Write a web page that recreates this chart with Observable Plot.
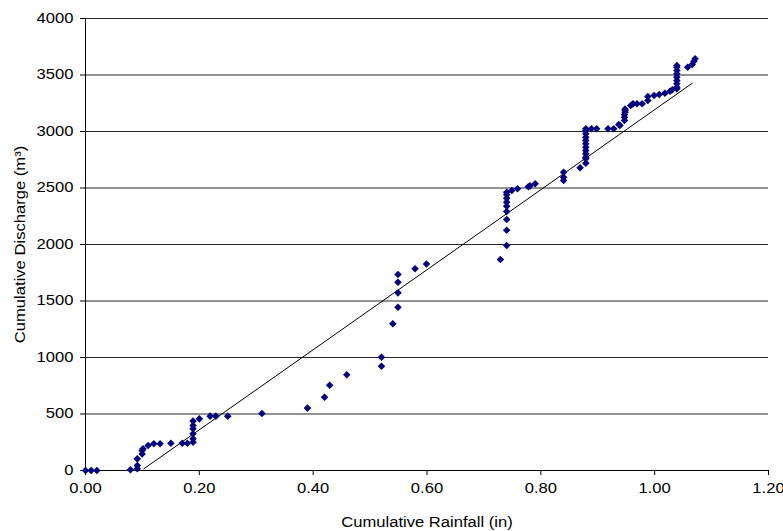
<!DOCTYPE html>
<html>
<head>
<meta charset="utf-8">
<script src="https://cdn.jsdelivr.net/npm/d3@7"></script>
<script src="https://cdn.jsdelivr.net/npm/@observablehq/plot@0.6"></script>
<style>
  html, body { margin: 0; padding: 0; background: #fff; }
  #chart svg { display: block; }
</style>
</head>
<body>
<div id="chart"></div>
<script>
// Cumulative rainfall (in)
const rainfall = [
  0.00, 0.01, 0.02, 0.079, 0.091, 0.091, 0.091, 0.0995, 0.0995, 0.101,
  0.110, 0.120, 0.131, 0.150, 0.170, 0.179, 0.189, 0.189, 0.189, 0.189,
  0.189, 0.189, 0.200, 0.219, 0.229, 0.250, 0.310, 0.390, 0.420, 0.429,
  0.459, 0.520, 0.520, 0.540, 0.549, 0.549, 0.549, 0.549, 0.579, 0.599,
  0.729, 0.740, 0.740, 0.740, 0.740, 0.740, 0.740, 0.740, 0.740, 0.740,
  0.749, 0.759, 0.778, 0.781, 0.790, 0.840, 0.840, 0.840, 0.869, 0.879,
  0.879, 0.879, 0.879, 0.879, 0.879, 0.879, 0.879, 0.879, 0.879, 0.879,
  0.879, 0.889, 0.898, 0.918, 0.928, 0.937, 0.939, 0.947, 0.947, 0.947,
  0.948, 0.948, 0.948, 0.958, 0.962, 0.969, 0.978, 0.988, 0.988, 0.999,
  1.008, 1.018, 1.027, 1.031, 1.039, 1.039, 1.039, 1.039, 1.039, 1.039,
  1.039, 1.039, 1.039, 1.058, 1.066, 1.069, 1.071
];
// Cumulative discharge (m³)
const discharge = [
  0, 0, 0, 6, 15, 44, 103, 147, 177, 192,
  221, 236, 236, 242, 242, 242, 251, 280, 325, 369,
  398, 437, 457, 481, 481, 481, 505, 552, 649, 755,
  847, 923, 1003, 1298, 1445, 1572, 1666, 1735, 1785, 1828,
  1867, 1991, 2127, 2221, 2292, 2339, 2375, 2410, 2440, 2463,
  2478, 2493, 2511, 2519, 2537, 2566, 2596, 2640, 2679, 2720,
  2758, 2773, 2802, 2832, 2861, 2891, 2920, 2950, 2979, 3009,
  3024, 3024, 3024, 3024, 3024, 3062, 3053, 3097, 3127, 3150,
  3171, 3186, 3200, 3230, 3245, 3245, 3245, 3274, 3310, 3318,
  3327, 3339, 3357, 3369, 3378, 3392, 3422, 3451, 3481, 3510,
  3540, 3569, 3584, 3569, 3593, 3622, 3643
];
// Linear trend line end points
const trendX = [0.1025, 1.066];
const trendY = [15, 3427];

const xTicks = [0, 0.2, 0.4, 0.6, 0.8, 1.0, 1.2];
const yTicks = [0, 500, 1000, 1500, 2000, 2500, 3000, 3500, 4000];

const points = rainfall.map((x, i) => ({x, y: discharge[i]}));
const trend = trendX.map((x, i) => ({x, y: trendY[i]}));

const chart = Plot.plot({
  width: 783,
  height: 531,
  marginLeft: 85,
  marginRight: 15,
  marginTop: 18,
  marginBottom: 61,
  style: {fontFamily: "'Liberation Sans', Arial, sans-serif", fontSize: "14px", color: "#000", background: "#fff"},
  x: {domain: [0, 1.2]},
  y: {domain: [0, 4000]},
  marks: [
    Plot.gridY(yTicks, {stroke: "#000", strokeOpacity: 0.85, strokeWidth: 1}),
    Plot.ruleX([0], {y1: 0, y2: 4000, stroke: "#000"}),
    Plot.ruleY([0], {stroke: "#000"}),
    Plot.axisX({ticks: xTicks, tickFormat: d3.format(".2f"), tickSize: 5, tickPadding: 8,
      label: "Cumulative Rainfall (in)", labelAnchor: "center", labelArrow: "none", labelOffset: 56}),
    Plot.axisY({ticks: yTicks, tickFormat: d => String(d), tickSize: 5, tickPadding: 7,
      label: "Cumulative Discharge (m³)", labelAnchor: "center", labelArrow: "none", labelOffset: 70}),
    Plot.line(trend, {x: "x", y: "y", stroke: "#000", strokeWidth: 1}),
    Plot.dot(points, {x: "x", y: "y", symbol: "diamond2", r: 3.4, fill: "#000080", stroke: "none"})
  ]
});
document.getElementById("chart").appendChild(chart);
// The reference's lettering is wide for its height: stretch the text along its direction.
const stretch = 16.6 / 14;
chart.querySelectorAll("text").forEach(t => {
  const w = t.getComputedTextLength();
  if (w > 0) {
    t.setAttribute("textLength", (w * stretch).toFixed(2));
    t.setAttribute("lengthAdjust", "spacingAndGlyphs");
  }
});
</script>
</body>
</html>
